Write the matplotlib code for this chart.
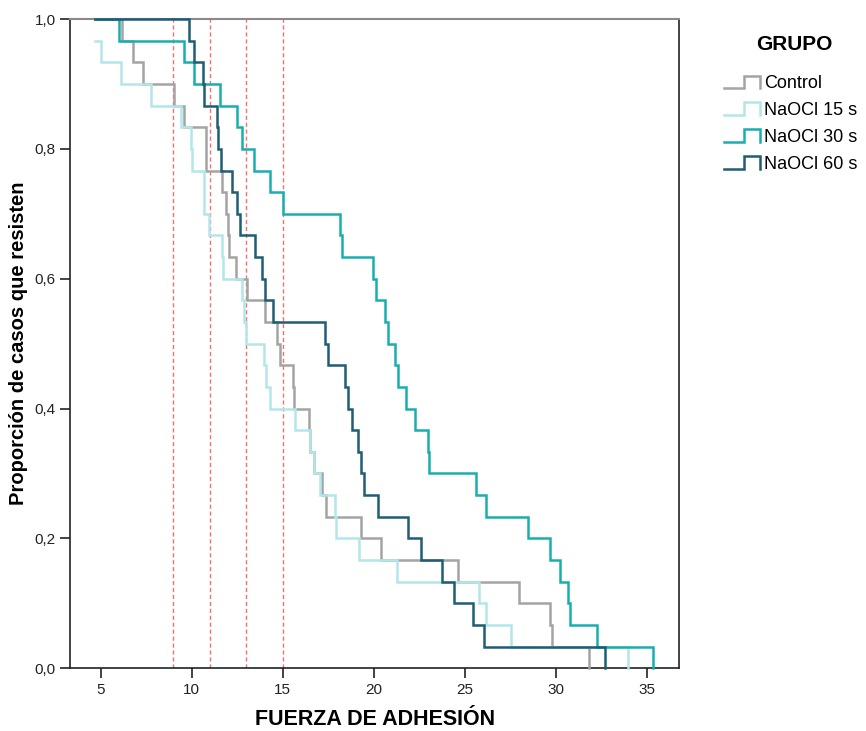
import matplotlib
matplotlib.use("Agg")
import matplotlib.pyplot as plt
from matplotlib.lines import Line2D
from matplotlib.legend_handler import HandlerBase
from matplotlib.ticker import FuncFormatter

plt.rcParams["font.family"] = ["Liberation Sans", "DejaVu Sans"]

# Event times (fuerza de adhesión), n = 30 per group
groups = ["Control", "NaOCl 15 s", "NaOCl 30 s", "NaOCl 60 s"]
colors = ["#a4a4a4", "#b2e6e9", "#19aeae", "#1f5d75"]

control = [6.16, 6.8, 7.3, 9.05, 9.6, 10.77, 10.8, 11.68, 11.87, 12.0,
           12.05, 12.45, 13.05, 14.05, 14.7, 14.87, 15.56, 15.6, 16.46, 16.5,
           16.7, 17.15, 17.4, 19.33, 20.4, 24.65, 27.99, 29.7, 29.8, 31.85]
naocl_15 = [4.7, 5.04, 6.13, 7.77, 9.41, 9.96, 10.0, 10.68, 10.7, 10.96,
            11.68, 11.7, 12.78, 12.87, 12.96, 14.0, 14.08, 14.33, 15.7, 16.48,
            16.7, 17.06, 17.9, 17.95, 19.2, 21.28, 25.8, 26.17, 27.53, 34.0]
naocl_30 = [6.0, 9.6, 10.14, 11.56, 12.5, 12.74, 13.4, 14.33, 15.0, 18.15,
            18.28, 19.97, 20.15, 20.65, 20.8, 21.16, 21.34, 21.8, 22.25, 22.98,
            23.07, 25.6, 26.16, 28.5, 29.7, 30.25, 30.7, 30.8, 32.27, 35.33]
naocl_60 = [9.86, 10.14, 10.6, 10.7, 11.4, 11.45, 11.6, 12.23, 12.5, 12.63,
            13.5, 13.84, 14.05, 14.45, 17.33, 17.47, 18.4, 18.6, 18.8, 19.15,
            19.33, 19.48, 20.25, 21.9, 22.6, 23.74, 24.43, 25.44, 26.04, 32.69]

cutoffs = [9, 11, 13, 15]
x_ticks = [5, 10, 15, 20, 25, 30, 35]
y_ticks = [0.0, 0.2, 0.4, 0.6, 0.8, 1.0]


def km_steps(times, start):
    times = sorted(times)
    n = len(times)
    surv = [1 - (i + 1) / n for i in range(n)]
    if times[0] <= start:
        return times, surv
    return [start] + times, [1.0] + surv


class StepHandler(HandlerBase):
    def create_artists(self, legend, orig, xdescent, ydescent, width, height, fontsize, trans):
        x0, y0 = -xdescent, -ydescent
        xs = [x0, x0 + 0.55 * width, x0 + 0.55 * width, x0 + width, x0 + width]
        ys = [y0, y0, y0 + height, y0 + height, y0]
        line = Line2D(xs, ys, color=orig.get_color(), lw=orig.get_linewidth(),
                      solid_joinstyle="miter", transform=trans)
        return [line]


fig = plt.figure(figsize=(8.66, 7.31), dpi=100)
ax = fig.add_axes([0.0814, 0.0858, 0.7026, 0.8882])

start = min(min(control), min(naocl_15), min(naocl_30), min(naocl_60))

for c in cutoffs:
    ax.axvline(c, color="#f27272", lw=1.0, linestyle=(0, (3, 2)), zorder=1)

handles = []
for name, data, col in zip(groups, [control, naocl_15, naocl_30, naocl_60], colors):
    xs, ys = km_steps(data, start)
    ax.step(xs, ys, where="post", color=col, lw=1.8, clip_on=False, zorder=3,
            solid_joinstyle="miter")
    handles.append(Line2D([], [], color=col, lw=1.8))

ax.set_xlim(3.34, 36.78)
ax.set_ylim(0, 1)
ax.set_xticks(x_ticks)
ax.set_yticks(y_ticks)
ax.yaxis.set_major_formatter(FuncFormatter(lambda v, p: f"{v:.1f}".replace(".", ",")))
ax.tick_params(direction="out", length=7, width=1.2, labelsize=11, colors="#222222")

for side in ["left", "bottom", "right"]:
    ax.spines[side].set_color("#222222")
    ax.spines[side].set_linewidth(1.2)
ax.spines["top"].set_color("#8a8a8a")
ax.spines["top"].set_linewidth(1.5)

ax.set_xlabel("FUERZA DE ADHESIÓN", fontsize=15.5, fontweight="bold", labelpad=9)
ax.set_ylabel("Proporción de casos que resisten", fontsize=14.5, fontweight="bold", labelpad=5)

fig.text(794 / 866, 1 - 45 / 731, "GRUPO", ha="center", va="center",
         fontsize=15, fontweight="bold")
leg = fig.legend(handles, groups, loc="upper left",
                 bbox_to_anchor=(0.828, 0.907), frameon=False, fontsize=13,
                 handler_map={Line2D: StepHandler()}, handlelength=2.0,
                 handletextpad=0.2, labelspacing=0.55, borderaxespad=0.0)

fig.savefig("out.png", dpi=100)
